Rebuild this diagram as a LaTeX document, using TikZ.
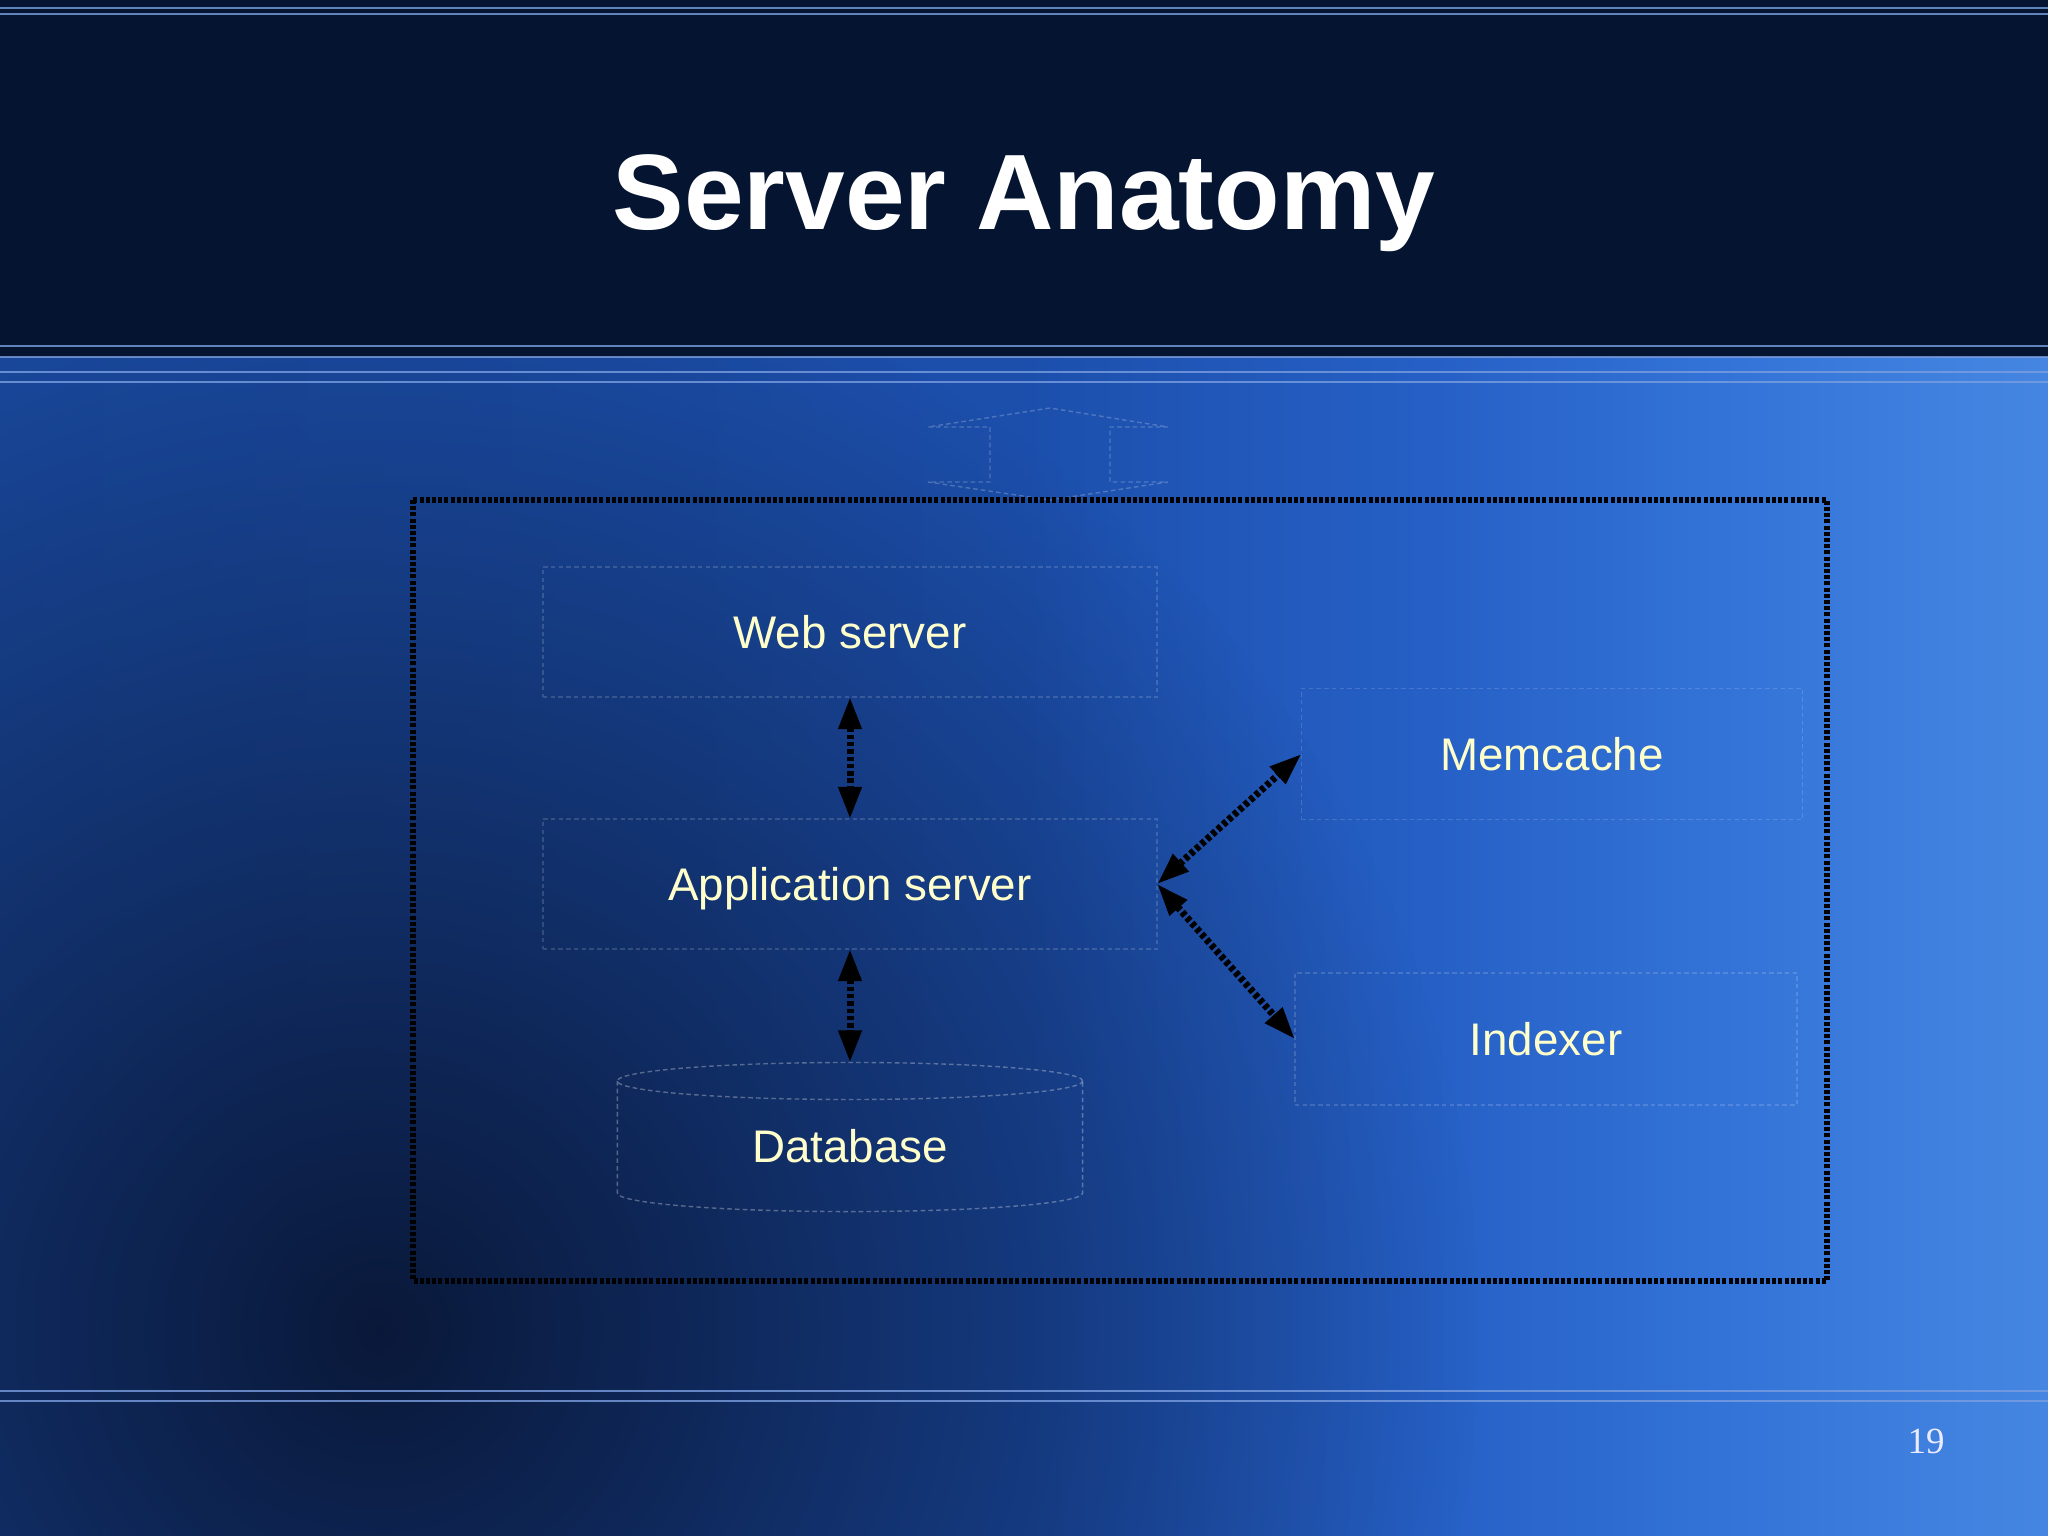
\documentclass[tikz,border=0pt]{standalone}
\usepackage{fontspec}
\setmainfont{Liberation Sans}
\newfontfamily\numfont{Liberation Serif}
\usetikzlibrary{arrows.meta,fadings}
\definecolor{headNavy}{HTML}{051430}
\definecolor{bodyA}{HTML}{1A4AA0}
\definecolor{bodyB}{HTML}{1C4FAC}
\definecolor{bodyC}{HTML}{2660C6}
\definecolor{bodyD}{HTML}{3474D8}
\definecolor{bodyE}{HTML}{4686E2}
\definecolor{deepNavy}{HTML}{08132E}
\definecolor{labelCream}{HTML}{FFFFCC}
\definecolor{stripeBlue}{HTML}{7A9EE0}
\pgfdeclarehorizontalshading{bodysweep}{100bp}{color(0bp)=(bodyA); color(25bp)=(bodyA);
  color(50bp)=(bodyB); color(60bp)=(bodyC); color(67.5bp)=(bodyD); color(75bp)=(bodyE); color(100bp)=(bodyE)}
\tikzfading[name=softglow, inner color=transparent!10, outer color=transparent!100]

\begin{document}
\begin{tikzpicture}[x=0.01cm, y=-0.01cm]
\tikzstyle{ghost}=[draw=white, draw opacity=0.3, line width=0.4pt, dash pattern=on 1.3pt off 0.9pt]
\tikzstyle{tier}=[ghost, draw opacity=0.15, shape=rectangle, minimum width=6.14cm, minimum height=1.3cm]
\tikzstyle{lbl}=[text=labelCream, font=\fontsize{13}{15}\selectfont, text height=0.95em, text depth=0pt]
\tikzstyle{link}=[line width=0.07cm, dash pattern=on 0.045cm off 0.028cm,
{Triangle[length=0.32cm, width=0.22cm]}-{Triangle[length=0.32cm, width=0.22cm]}]
\tikzstyle{stripe}=[draw=stripeBlue, draw opacity=0.8, line width=0.6pt]
\tikzstyle{hostline}=[draw=black, line width=0.06cm, dash pattern=on 0.04cm off 0.022cm]
\tikzset{every node/.style={inner sep=0pt, outer sep=0pt}}

\useasboundingbox (0,0) rectangle (2048,1535);

\fill[headNavy] (0,0) rectangle (2048,357);
\shade[shading=bodysweep] (0,357) rectangle (2048,1535);
\begin{scope}
\clip (0,357) rectangle (2048,1535);
\fill[deepNavy, path fading=softglow] (380,1330) circle[radius=11cm];
\end{scope}

\foreach \y in {8,14,346,357,372,382,1391,1401}
{
	\draw[stripe] (0,\y) -- (2048,\y);
}

\node[font=\fontsize{30.5}{36}\selectfont\bfseries, text=white, anchor=base] (title) at (1024,229) {Server Anatomy};

\draw[ghost, draw opacity=0.22] (1050,408) -- (928,427) -- (990,427) -- (990,482) -- (928,482) -- (1050,500)
  -- (1168,482) -- (1110,482) -- (1110,427) -- (1168,427) -- cycle;
\draw[hostline] (413,500) rectangle (1827,1281);

\node[tier, lbl] (web) at (850,632) {Web server};
\node[tier, lbl] (app) at (850,884) {Application server};
\node[tier, lbl, minimum width=5.01cm, minimum height=1.31cm] (mem) at (1552,754) {Memcache};
\node[tier, lbl, minimum width=5.02cm, minimum height=1.32cm] (idx) at (1546,1039) {Indexer};

\node[minimum width=4.65cm, minimum height=1.49cm] (db) at (850,1137) {};
\draw[ghost] ([yshift=-0.185cm]db.north) ellipse [x radius=2.325cm, y radius=0.185cm];
\draw[ghost] ([yshift=-0.185cm]db.north west) -- ([yshift=0.185cm]db.south west)
  arc[start angle=180, end angle=360, x radius=2.325cm, y radius=0.185cm]
  -- ([yshift=-0.185cm]db.north east);
\node[lbl] (dbname) at ([yshift=-0.09cm]db.center) {Database};

\draw[link] (web.south) -- (app.north);
\draw[link] (app.south) -- (db.north);
\draw[link] (app.east) -- (mem.west);
\draw[link] (app.east) -- (idx.west);

\node[font=\numfont\fontsize{10.5}{12}\selectfont, text=white!92!blue] (pagenum) at (1926,1441) {19};
\end{tikzpicture}
\end{document}
